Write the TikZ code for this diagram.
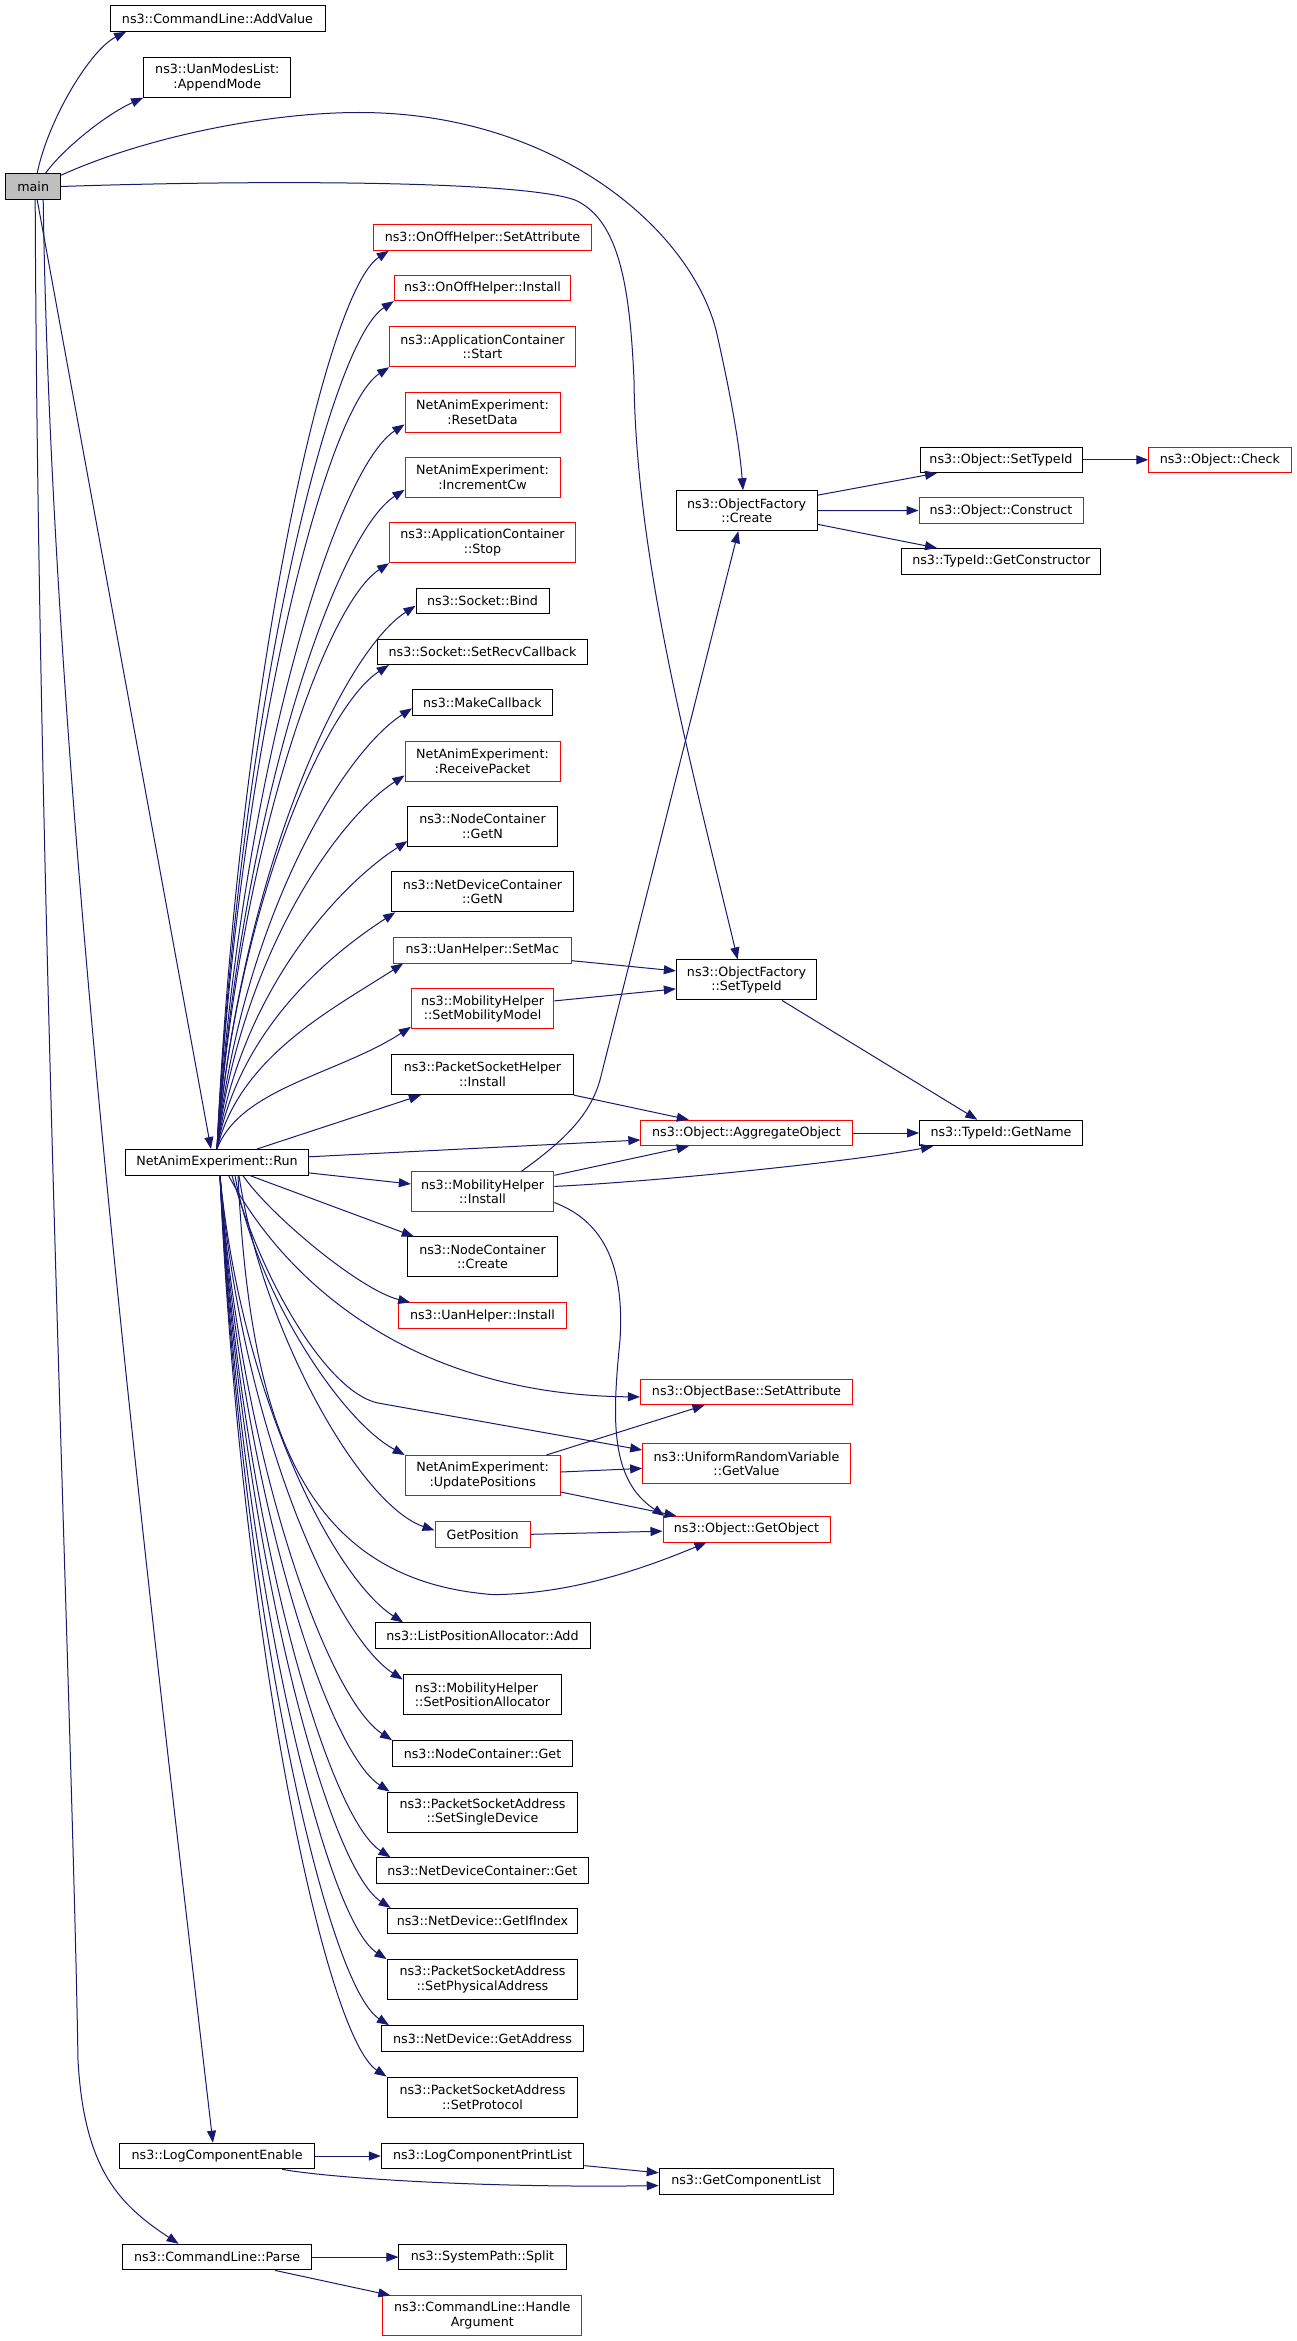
\documentclass[tikz,border=0pt]{standalone}
\usepackage{fontspec}
\setmainfont{DejaVu Sans}
\usetikzlibrary{arrows.meta,calc}
\definecolor{edgeblue}{HTML}{191970}
\definecolor{maingray}{HTML}{BFBFBF}
\tikzset{
  box/.style={draw=black, line width=1pt, inner sep=0pt, minimum height=25.6pt,
              align=center, fill=white, font=\fontsize{12.7}{14.7}\selectfont},
  redbox/.style={box, draw=red},
  tall/.style={minimum height=40pt},
  edge/.style={draw=edgeblue, line width=1pt, -{Triangle[length=12pt,width=9pt]}},
}
\newcommand\fanup[2]{%
  \draw[edge] let \p1=(#1), \p2=(#2), \n1={\x2-\x1}, \n2={\y2-\y1} in
    (\p1) .. controls ({\x1+0.12*\n1},{\y1+0.5*\n2}) and ({\x2-0.3776*\n1},{\y2-0.245*\n1}) .. (\p2);}
\newcommand\fandown[2]{%
  \draw[edge] let \p1=(#1), \p2=(#2), \n1={\x2-\x1}, \n2={\y2-\y1} in
    (\p1) .. controls ({\x1+0.12*\n1},{\y1+0.5*\n2}) and ({\x2-0.3776*\n1},{\y2+0.245*\n1}) .. (\p2);}
\begin{document}
\begin{tikzpicture}[x=1pt,y=-1pt]
\fill[white] (0,0) rectangle (1296,2341);
\useasboundingbox (0,0) rectangle (1296,2341);

% column 0/1
\node[box, fill=maingray, minimum width=54.8pt] (main) at (33.2,186.5) {main};
\node[box, minimum width=215pt] (addvalue) at (217.5,18.5) {ns3::CommandLine::AddValue};
\node[box, tall, minimum width=147.3pt] (appendmode) at (217.3,77.2) {ns3::UanModesList:\\:AppendMode};
\node[box, minimum width=182.5pt] (run) at (217,1162.3) {NetAnimExperiment::Run};
\node[box, minimum width=195pt] (logenable) at (217.1,2156) {ns3::LogComponentEnable};
\node[box, minimum width=189.3pt] (parse) at (217.1,2257.1) {ns3::CommandLine::Parse};

% column 2
\node[redbox, minimum width=217.6pt] (onoffsetattr) at (482.5,237.5) {ns3::OnOffHelper::SetAttribute};
\node[redbox, minimum width=176.4pt] (onoffinstall) at (482.5,287.9) {ns3::OnOffHelper::Install};
\node[redbox, tall, minimum width=185.6pt] (appstart) at (482.5,346.7) {ns3::ApplicationContainer\\::Start};
\node[redbox, tall, minimum width=155pt] (resetdata) at (482.5,412) {NetAnimExperiment:\\:ResetData};
\node[redbox, tall, minimum width=155pt] (incrementcw) at (482.5,477.3) {NetAnimExperiment:\\:IncrementCw};
\node[redbox, tall, minimum width=185.8pt] (appstop) at (482.5,542.7) {ns3::ApplicationContainer\\::Stop};
\node[box, minimum width=133pt] (socketbind) at (482.5,601.1) {ns3::Socket::Bind};
\node[box, minimum width=209.2pt] (setrecv) at (482.5,651.8) {ns3::Socket::SetRecvCallback};
\node[box, minimum width=140pt] (makecallback) at (482.5,702.5) {ns3::MakeCallback};
\node[redbox, tall, minimum width=155pt] (receivepacket) at (482.5,761) {NetAnimExperiment:\\:ReceivePacket};
\node[box, tall, minimum width=149.2pt] (ncgetn) at (482.5,826.6) {ns3::NodeContainer\\::GetN};
\node[box, tall, minimum width=181.4pt] (ndcgetn) at (482.5,891.8) {ns3::NetDeviceContainer\\::GetN};
\node[redbox, minimum width=178.2pt] (setmac) at (482.3,950.2) {ns3::UanHelper::SetMac};
\node[redbox, tall, minimum width=142.5pt] (setmobility) at (482.6,1008.9) {ns3::MobilityHelper\\::SetMobilityModel};
\node[box, tall, minimum width=181.4pt] (psh) at (482.5,1074.6) {ns3::PacketSocketHelper\\::Install};
\node[redbox, tall, minimum width=142.5pt] (mhinstall) at (482.6,1191.8) {ns3::MobilityHelper\\::Install};
\node[box, tall, minimum width=149.2pt] (nccreate) at (482.5,1256.9) {ns3::NodeContainer\\::Create};
\node[redbox, minimum width=167.2pt] (uaninstall) at (482.5,1315.7) {ns3::UanHelper::Install};
\node[redbox, tall, minimum width=155pt] (updatepos) at (482.7,1475.5) {NetAnimExperiment:\\:UpdatePositions};
\node[redbox, minimum width=95.4pt] (getposition) at (482.7,1534.3) {GetPosition};
\node[box, minimum width=215pt] (listposadd) at (482.5,1635.7) {ns3::ListPositionAllocator::Add};
\node[box, tall, minimum width=158.6pt, align=left] (setposalloc) at (482.5,1694.6) {ns3::MobilityHelper\\::SetPositionAllocator};
\node[box, minimum width=180pt] (ncget) at (482.5,1753.4) {ns3::NodeContainer::Get};
\node[box, tall, minimum width=190.8pt] (setsingle) at (482.5,1812) {ns3::PacketSocketAddress\\::SetSingleDevice};
\node[box, minimum width=211.8pt] (ndcget) at (482.3,1870.6) {ns3::NetDeviceContainer::Get};
\node[box, minimum width=190.8pt] (getifindex) at (482.5,1921.1) {ns3::NetDevice::GetIfIndex};
\node[box, tall, minimum width=190.8pt] (setphys) at (482.5,1979.6) {ns3::PacketSocketAddress\\::SetPhysicalAddress};
\node[box, minimum width=202.2pt] (getaddress) at (482.5,2038.4) {ns3::NetDevice::GetAddress};
\node[box, tall, minimum width=190.8pt] (setprotocol) at (482.5,2097) {ns3::PacketSocketAddress\\::SetProtocol};
\node[box, minimum width=202.5pt] (printlist) at (482.6,2156) {ns3::LogComponentPrintList};
\node[box, minimum width=167.2pt] (split) at (482.5,2257.1) {ns3::SystemPath::Split};
\node[redbox, tall, minimum width=198.9pt] (handlearg) at (482.3,2315.8) {ns3::CommandLine::Handle\\Argument};

% column 3
\node[box, tall, minimum width=140.6pt] (ofcreate) at (746.7,510.7) {ns3::ObjectFactory\\::Create};
\node[box, tall, minimum width=140.3pt] (ofsettypeid) at (746.5,979.9) {ns3::ObjectFactory\\::SetTypeId};
\node[redbox, minimum width=211.3pt] (aggregate) at (746.5,1133) {ns3::Object::AggregateObject};
\node[redbox, minimum width=212.1pt] (objbasesetattr) at (746.5,1391.9) {ns3::ObjectBase::SetAttribute};
\node[redbox, tall, minimum width=207.7pt] (urv) at (746.5,1463.7) {ns3::UniformRandomVariable\\::GetValue};
\node[redbox, minimum width=167pt] (getobject) at (746.5,1529.2) {ns3::Object::GetObject};
\node[box, minimum width=173.9pt] (getcomplist) at (746.2,2181.2) {ns3::GetComponentList};

% column 4/5
\node[box, minimum width=162pt] (objsettypeid) at (1001,459.8) {ns3::Object::SetTypeId};
\node[redbox, minimum width=142.2pt] (check) at (1219.9,459.8) {ns3::Object::Check};
\node[redbox, minimum width=164pt] (construct) at (1001,510.5) {ns3::Object::Construct};
\node[box, minimum width=198.7pt] (getconstructor) at (1001.3,561.3) {ns3::TypeId::GetConstructor};
\node[box, minimum width=162.9pt] (getname) at (1001,1133) {ns3::TypeId::GetName};

% ---- edges from main
\draw[edge] ([xshift=4pt]main.north) .. controls (48,120) and (90,50) .. ([xshift=16.6pt]addvalue.south west);
\draw[edge] ([xshift=12.4pt]main.north) .. controls (62,150) and (105,115) .. (appendmode.south west);
\draw[edge] ([yshift=-2pt]main.north east) .. controls (150,135) and (280,110) .. (373,112.7)
   .. controls (560,118) and (690,230) .. (716,330) .. controls (732,400) and (740,450) .. ([xshift=-3.7pt]ofcreate.north);
\draw[edge] (main.east) .. controls (250,180) and (520,180) .. (575,200)
   .. controls (620,220) and (630,290) .. (634,380) .. controls (636,560) and (690,760) .. ([xshift=-8.9pt]ofsettypeid.north);
\draw[edge] ([xshift=4pt]main.south) -- ([xshift=-6pt]run.north);
\draw[edge] ([xshift=10pt]main.south) .. controls (52,800) and (150,1600) .. ([xshift=-4.2pt]logenable.north);
\draw[edge] ([xshift=2pt]main.south) .. controls (38,900) and (72,1700) .. (78,2060)
   .. controls (84,2170) and (120,2205) .. ([xshift=-38.5pt]parse.north);

% ---- fan above Run
\fanup{run.north}{[xshift=15.6pt]onoffsetattr.south west}
\fanup{run.north}{onoffinstall.south west}
\fanup{run.north}{appstart.south west}
\fanup{run.north}{[yshift=8pt]resetdata.south west}
\fanup{run.north}{[yshift=8pt]incrementcw.south west}
\fanup{run.north}{appstop.south west}
\fanup{run.north}{[yshift=8.6pt]socketbind.south west}
\fanup{run.north}{[xshift=11.4pt]setrecv.south west}
\fanup{run.north}{[yshift=7.5pt]makecallback.south west}
\fanup{run.north}{[yshift=6pt]receivepacket.south west}
\fanup{run.north}{[yshift=6pt]ncgetn.south west}
\fanup{run.north}{[xshift=3.9pt]ndcgetn.south west}
\fanup{run.north}{[xshift=10.4pt]setmac.south west}
\fanup{run.north}{[yshift=2.5pt]setmobility.south west}
\draw[edge] ([xshift=40pt]run.north) -- ([xshift=29.6pt]psh.south west);
\draw[edge] ([yshift=5.5pt]run.east) -- ([yshift=-7pt]aggregate.west);
\draw[edge] ([yshift=-10.6pt]run.east) -- ([yshift=7.8pt]mhinstall.west);

% ---- fan below Run
\draw[edge] ([xshift=33pt]run.south) -- ([xshift=6.4pt]nccreate.north west);
\draw[edge] ([xshift=26pt]run.south) .. controls (270,1215) and (360,1290) .. ([xshift=11.8pt]uaninstall.north west);
\draw[edge] ([xshift=11.6pt]run.south) .. controls (290,1290) and (420,1395) .. ([yshift=-5pt]objbasesetattr.west);
\draw[edge] ([xshift=15pt]run.south) .. controls (265,1290) and (330,1393) .. (378,1403) -- ([yshift=13.7pt]urv.west);
\draw[edge] ([xshift=18pt]run.south) .. controls (255,1290) and (340,1420) .. (updatepos.north west);
\draw[edge] ([xshift=22pt]run.south) .. controls (262,1330) and (360,1505) .. ([yshift=4pt]getposition.west);
\draw[edge] ([xshift=21pt]run.south) .. controls (250,1420) and (300,1580) .. (493,1594.6)
   .. controls (570,1594) and (640,1570) .. ([xshift=-40pt]getobject.south);
\fandown{[xshift=3pt]run.south}{[xshift=28.6pt]listposadd.north west}
\fandown{[xshift=3pt]run.south}{[yshift=-5.4pt]setposalloc.north west}
\fandown{[xshift=3pt]run.south}{ncget.north west}
\fandown{[xshift=3pt]run.south}{[xshift=3pt]setsingle.north west}
\fandown{[xshift=3pt]run.south}{[xshift=14.6pt]ndcget.north west}
\fandown{[xshift=3pt]run.south}{[xshift=4pt]getifindex.north west}
\fandown{[xshift=3pt]run.south}{setphys.north west}
\fandown{[xshift=3pt]run.south}{[xshift=8pt]getaddress.north west}
\fandown{[xshift=3pt]run.south}{setprotocol.north west}

% ---- other edges
\draw[edge] (logenable.east) -- (printlist.west);
\draw[edge] ([xshift=65pt]logenable.south) .. controls (330,2178) and (480,2188) .. ([yshift=-4.4pt]getcomplist.west);
\draw[edge] ([yshift=-9.6pt]printlist.east) -- ([yshift=8.4pt]getcomplist.west);
\draw[edge] (parse.east) -- (split.west);
\draw[edge] ([xshift=58pt]parse.south) -- ([xshift=8pt]handlearg.north west);
\draw[edge] ([yshift=-10.5pt]setmac.east) -- ([yshift=9pt]ofsettypeid.west);
\draw[edge] ([yshift=8pt]setmobility.east) -- ([yshift=-9pt]ofsettypeid.west);
\draw[edge] (psh.south east) -- ([xshift=-57.7pt]aggregate.north);
\draw[edge] ([xshift=38.8pt]mhinstall.north) .. controls (565,1140) and (590,1115) .. (600,1080) -- ([xshift=-8.4pt]ofcreate.south);
\draw[edge] ([yshift=-4pt]mhinstall.north east) -- ([xshift=-57.7pt]aggregate.south);
\draw[edge] ([yshift=5.4pt]mhinstall.east) .. controls (650,1182) and (850,1162) .. ([xshift=-68pt]getname.south);
\draw[edge] ([yshift=-10.7pt]mhinstall.east) .. controls (600,1220) and (625,1260) .. (620,1340)
   .. controls (612,1420) and (610,1480) .. ([xshift=2pt]getobject.north west);
\draw[edge] ([xshift=35.5pt]ofsettypeid.south) -- ([xshift=-23.7pt]getname.north);
\draw[edge] (aggregate.east) -- (getname.west);
\draw[edge] ([xshift=63.7pt]updatepos.north) -- ([xshift=-42pt]objbasesetattr.south);
\draw[edge] ([yshift=3.5pt]updatepos.east) -- ([yshift=-4.7pt]urv.west);
\draw[edge] ([yshift=4pt]updatepos.south east) -- ([xshift=14pt]getobject.north west);
\draw[edge] (getposition.east) -- ([yshift=-2pt]getobject.west);
\draw[edge] ([yshift=-5pt]ofcreate.north east) -- ([xshift=-64pt]objsettypeid.south);
\draw[edge] (ofcreate.east) -- (construct.west);
\draw[edge] ([yshift=-13.6pt]ofcreate.east) -- ([xshift=-64.3pt]getconstructor.north);
\draw[edge] (objsettypeid.east) -- (check.west);
\end{tikzpicture}
\end{document}
